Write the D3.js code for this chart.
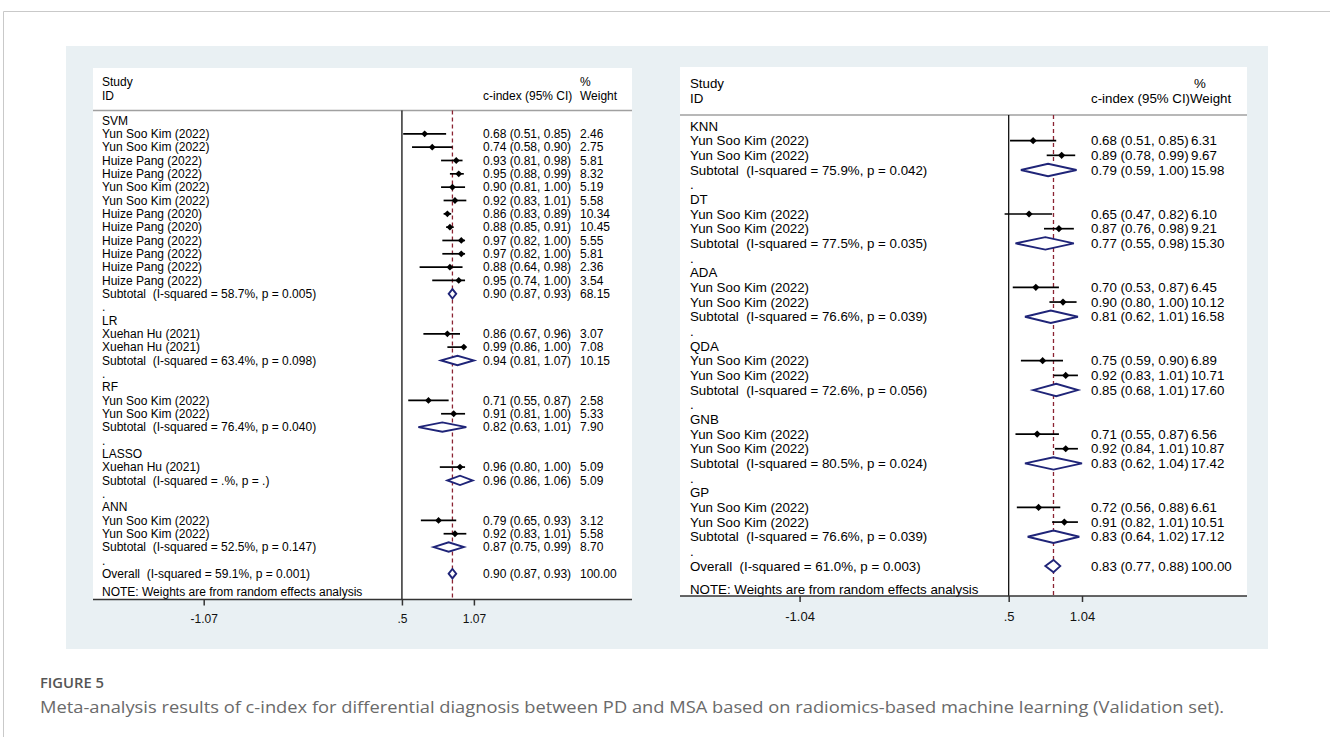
<!DOCTYPE html>
<html><head><meta charset="utf-8">
<script src="https://cdn.jsdelivr.net/npm/d3@7"></script>
<style>
body{margin:0;background:#fff;}
svg text{font-family:"Liberation Sans",Arial,sans-serif;white-space:pre;}
</style></head><body>
<svg id="c" width="1330" height="737"></svg>
<script>
// ---------- Left panel data ----------
const leftLabels = ["SVM","Yun Soo Kim (2022)","Yun Soo Kim (2022)","Huize Pang (2022)","Huize Pang (2022)","Yun Soo Kim (2022)","Yun Soo Kim (2022)","Huize Pang (2020)","Huize Pang (2020)","Huize Pang (2022)","Huize Pang (2022)","Huize Pang (2022)","Huize Pang (2022)","Subtotal  (I-squared = 58.7%, p = 0.005)",".",
 "LR","Xuehan Hu (2021)","Xuehan Hu (2021)","Subtotal  (I-squared = 63.4%, p = 0.098)",".",
 "RF","Yun Soo Kim (2022)","Yun Soo Kim (2022)","Subtotal  (I-squared = 76.4%, p = 0.040)",".",
 "LASSO","Xuehan Hu (2021)","Subtotal  (I-squared = .%, p = .)",".",
 "ANN","Yun Soo Kim (2022)","Yun Soo Kim (2022)","Subtotal  (I-squared = 52.5%, p = 0.147)",".",
 "Overall  (I-squared = 59.1%, p = 0.001)"];
const leftTypes = ["h","s","s","s","s","s","s","s","s","s","s","s","s","t","b",
 "h","s","s","t","b","h","s","s","t","b","h","s","t","b","h","s","s","t","b","o"];
const leftEst = [null,0.68,0.74,0.93,0.95,0.90,0.92,0.86,0.88,0.97,0.97,0.88,0.95,0.90,null,
 null,0.86,0.99,0.94,null,null,0.71,0.91,0.82,null,null,0.96,0.96,null,null,0.79,0.92,0.87,null,0.90];
const leftLo = [null,0.51,0.58,0.81,0.88,0.81,0.83,0.83,0.85,0.82,0.82,0.64,0.74,0.87,null,
 null,0.67,0.86,0.81,null,null,0.55,0.81,0.63,null,null,0.80,0.86,null,null,0.65,0.83,0.75,null,0.87];
const leftHi = [null,0.85,0.90,0.98,0.99,1.00,1.01,0.89,0.91,1.00,1.00,0.98,1.00,0.93,null,
 null,0.96,1.00,1.07,null,null,0.87,1.00,1.01,null,null,1.00,1.06,null,null,0.93,1.01,0.99,null,0.93];
const leftWeight = [null,2.46,2.75,5.81,8.32,5.19,5.58,10.34,10.45,5.55,5.81,2.36,3.54,68.15,null,
 null,3.07,7.08,10.15,null,null,2.58,5.33,7.90,null,null,5.09,5.09,null,null,3.12,5.58,8.70,null,100.00];
const leftTicks = [-1.07, 0.5, 1.07];
const leftTickLabels = ["-1.07", ".5", "1.07"];

// ---------- Right panel data ----------
const rightLabels = ["KNN","Yun Soo Kim (2022)","Yun Soo Kim (2022)","Subtotal  (I-squared = 75.9%, p = 0.042)",".",
 "DT","Yun Soo Kim (2022)","Yun Soo Kim (2022)","Subtotal  (I-squared = 77.5%, p = 0.035)",".",
 "ADA","Yun Soo Kim (2022)","Yun Soo Kim (2022)","Subtotal  (I-squared = 76.6%, p = 0.039)",".",
 "QDA","Yun Soo Kim (2022)","Yun Soo Kim (2022)","Subtotal  (I-squared = 72.6%, p = 0.056)",".",
 "GNB","Yun Soo Kim (2022)","Yun Soo Kim (2022)","Subtotal  (I-squared = 80.5%, p = 0.024)",".",
 "GP","Yun Soo Kim (2022)","Yun Soo Kim (2022)","Subtotal  (I-squared = 76.6%, p = 0.039)",".",
 "Overall  (I-squared = 61.0%, p = 0.003)"];
const rightTypes = ["h","s","s","t","b","h","s","s","t","b","h","s","s","t","b","h","s","s","t","b","h","s","s","t","b","h","s","s","t","b","o"];
const rightEst = [null,0.68,0.89,0.79,null,null,0.65,0.87,0.77,null,null,0.70,0.90,0.81,null,null,0.75,0.92,0.85,null,null,0.71,0.92,0.83,null,null,0.72,0.91,0.83,null,0.83];
const rightLo = [null,0.51,0.78,0.59,null,null,0.47,0.76,0.55,null,null,0.53,0.80,0.62,null,null,0.59,0.83,0.68,null,null,0.55,0.84,0.62,null,null,0.56,0.82,0.64,null,0.77];
const rightHi = [null,0.85,0.99,1.00,null,null,0.82,0.98,0.98,null,null,0.87,1.00,1.01,null,null,0.90,1.01,1.01,null,null,0.87,1.01,1.04,null,null,0.88,1.01,1.02,null,0.88];
const rightWeight = [null,6.31,9.67,15.98,null,null,6.10,9.21,15.30,null,null,6.45,10.12,16.58,null,null,6.89,10.71,17.60,null,null,6.56,10.87,17.42,null,null,6.61,10.51,17.12,null,100.00];
const rightTicks = [-1.04, 0.5, 1.04];
const rightTickLabels = ["-1.04", ".5", "1.04"];

const nullValue = 0.5;
const captionTitle = "FIGURE 5";
const captionText = "Meta-analysis results of c-index for differential diagnosis between PD and MSA based on radiomics-based machine learning (Validation set).";

// ---------- Drawing ----------
const svg = d3.select("#c");
svg.append("rect").attr("width",1330).attr("height",737).attr("fill","#fff");
svg.append("line").attr("x1",3.5).attr("x2",1330).attr("y1",11.5).attr("y2",11.5).attr("stroke","#c9c9c9").attr("stroke-width",1);
svg.append("line").attr("x1",3.5).attr("x2",3.5).attr("y1",11.5).attr("y2",737).attr("stroke","#c9c9c9").attr("stroke-width",1);
svg.append("rect").attr("x",66).attr("y",46).attr("width",1202).attr("height",603).attr("fill","#e9f0f3");

const NAVY = "#1f2478", MAROON = "#8b2332";

function drawPanel(cfg, labels, types, est, lo, hi, wt, ticks, tickLabels){
  const g = svg.append("g");
  const fs = cfg.fs;
  g.append("rect").attr("x",cfg.x0).attr("y",cfg.y0).attr("width",cfg.x1-cfg.x0).attr("height",cfg.axisY-cfg.y0).attr("fill","#fff");
  const x = d3.scaleLinear().domain(cfg.domain).range(cfg.range);
  const y = i => cfg.row0 + i*cfg.pitch;
  const txt = (tx, ty, s) => g.append("text").attr("x",tx).attr("y",ty).attr("dy","0.35em").attr("font-size",fs).attr("fill","#000").text(s);
  txt(cfg.labelX, cfg.h1, "Study");
  txt(cfg.labelX, cfg.h2, "ID");
  txt(cfg.ciX, cfg.h2, "c-index (95% CI)");
  txt(cfg.pctX, cfg.h1, "%");
  txt(cfg.wtX0, cfg.h2, "Weight");
  g.append("line").attr("x1",cfg.x0).attr("x2",cfg.x1).attr("y1",cfg.sepY).attr("y2",cfg.sepY).attr("stroke","#a0a0a0").attr("stroke-width",1.5);
  g.append("line").attr("x1",x(nullValue)).attr("x2",x(nullValue)).attr("y1",cfg.sepY).attr("y2",cfg.axisY).attr("stroke","#111").attr("stroke-width",1.3);
  const oi = types.indexOf("o");
  g.append("line").attr("x1",x(est[oi])).attr("x2",x(est[oi])).attr("y1",cfg.sepY).attr("y2",cfg.axisY)
    .attr("stroke",MAROON).attr("stroke-width",1.3).attr("stroke-dasharray","4,3");
  labels.forEach((lab,i)=>{
    txt(cfg.labelX, y(i), lab);
    if (est[i] == null) return;
    txt(cfg.ciX, y(i), `${est[i].toFixed(2)} (${lo[i].toFixed(2)}, ${hi[i].toFixed(2)})`);
    txt(cfg.wtX, y(i), wt[i].toFixed(2));
    if (types[i] === "s") {
      g.append("line").attr("x1",x(lo[i])).attr("x2",x(hi[i])).attr("y1",y(i)).attr("y2",y(i)).attr("stroke","#000").attr("stroke-width",1.7);
      const cx = x(est[i]), cy = y(i), m = cfg.mHalf;
      g.append("path").attr("d",`M${cx-m},${cy}L${cx},${cy-m}L${cx+m},${cy}L${cx},${cy+m}Z`).attr("fill","#000");
    } else {
      const cy = y(i), h = cfg.dHalf;
      g.append("path").attr("d",`M${x(lo[i])},${cy}L${x(est[i])},${cy-h}L${x(hi[i])},${cy}L${x(est[i])},${cy+h}Z`)
        .attr("fill","#fff").attr("stroke",NAVY).attr("stroke-width",1.9).attr("stroke-linejoin","miter");
    }
  });
  txt(cfg.labelX, cfg.noteY, "NOTE: Weights are from random effects analysis");
  g.append("line").attr("x1",cfg.x0).attr("x2",cfg.x1).attr("y1",cfg.axisY).attr("y2",cfg.axisY).attr("stroke","#333").attr("stroke-width",1.5);
  const ax = d3.axisBottom(x).tickValues(ticks).tickSize(6).tickPadding(cfg.tpad).tickFormat((d,i)=>tickLabels[i]);
  const ag = g.append("g").attr("transform",`translate(0,${cfg.axisY})`).call(ax);
  ag.select(".domain").remove();
  ag.selectAll(".tick line").attr("stroke","#333").attr("stroke-width",1.5);
  ag.selectAll(".tick text").attr("font-size",cfg.tfs).attr("fill","#111").attr("font-family","'Liberation Sans',Arial,sans-serif");
}

drawPanel({x0:93,x1:632,y0:68,axisY:599.5,sepY:110.5,labelX:102,ciX:483,wtX:580,wtX0:580,pctX:580,h1:81.5,h2:95.5,
  row0:120.5,pitch:13.33,fs:12,domain:[-1.07,1.07],range:[203.7,473.9],noteY:592,mHalf:3.4,dHalf:4.7,tfs:12,tpad:9},
  leftLabels,leftTypes,leftEst,leftLo,leftHi,leftWeight,leftTicks,leftTickLabels);

drawPanel({x0:680,x1:1247,y0:67,axisY:596,sepY:115,labelX:690,ciX:1091,wtX:1191,wtX0:1190,pctX:1194,h1:83,h2:98,
  row0:126,pitch:14.67,fs:13.3,domain:[-1.04,1.04],range:[799.6,1082],noteY:589,mHalf:3.6,dHalf:6.2,tfs:13,tpad:10},
  rightLabels,rightTypes,rightEst,rightLo,rightHi,rightWeight,rightTicks,rightTickLabels);

svg.append("text").attr("x",40).attr("y",683).attr("dy","0.35em").attr("font-size",14).attr("font-weight",600)
  .attr("fill","#555").style("font-family","'Open Sans',sans-serif").attr("textLength",64).attr("lengthAdjust","spacingAndGlyphs").text(captionTitle);
svg.append("text").attr("x",40).attr("y",707).attr("dy","0.35em").attr("font-size",17).attr("fill","#6a6a6a")
  .style("font-family","'Open Sans',sans-serif").attr("textLength",1184).attr("lengthAdjust","spacingAndGlyphs").text(captionText);
</script>
</body></html>
